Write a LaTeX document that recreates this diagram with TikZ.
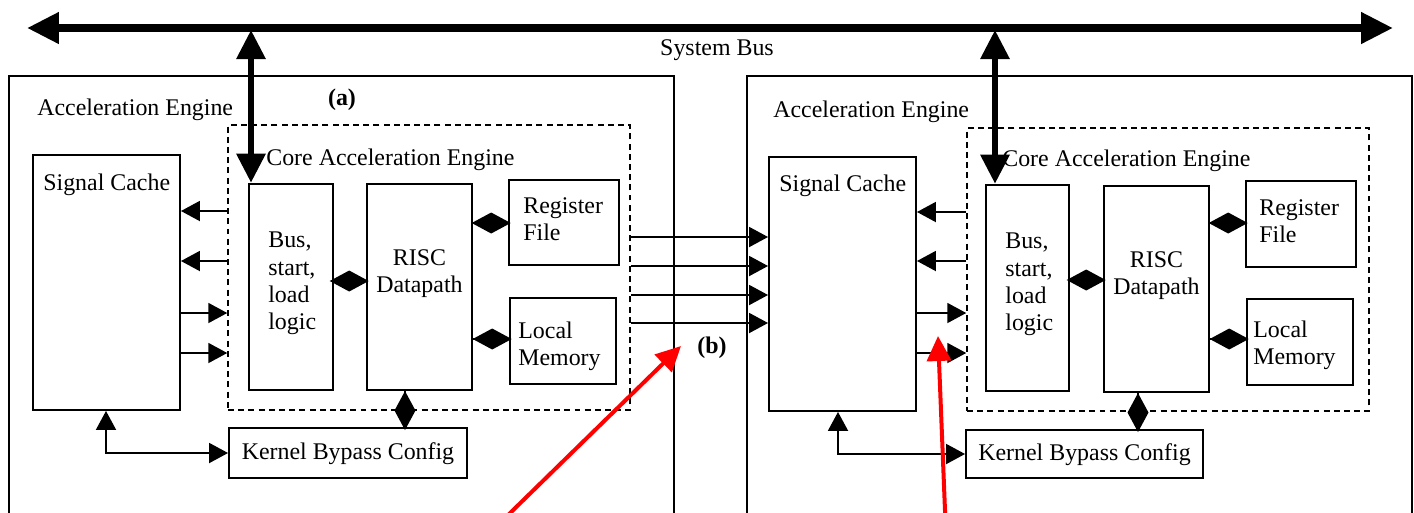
\documentclass[tikz,border=0pt]{standalone}
\usepackage{fontspec}
\setmainfont{Liberation Serif}
\usetikzlibrary{arrows.meta}

\begin{document}
\begin{tikzpicture}
		[
			x=0.02cm, y=-0.02cm,
			font=\fontsize{13.6}{15.5}\selectfont,
			txt/.style={draw=none,fill=none,inner sep=0pt},
			engine/.style={draw,line width=1.5pt,inner sep=0pt},
			block/.style={draw,line width=1.5pt,inner sep=0pt},
			thinblock/.style={draw,line width=1.1pt,inner sep=0pt},
			core/.style={draw,dash pattern=on 3.4pt off 2.4pt,line width=0.9pt,inner sep=0pt},
			arrow/.style={-{Triangle[length=0.38cm,width=0.40cm]}, line width=1.1pt},
			link/.style={{Triangle[length=0.38cm,width=0.40cm]}-{Triangle[length=0.38cm,width=0.40cm]}, line width=1.1pt},
			twoway/.style={-{Kite[length=0.78cm,width=0.42cm,inset=0.39cm]}, line width=1.1pt, shorten >=-0.06cm},
			sysbus/.style={{Triangle[length=0.64cm,width=0.60cm]}-{Triangle[length=0.64cm,width=0.60cm]}, line width=0.15cm},
			bus/.style={{Triangle[length=0.58cm,width=0.56cm]}-{Triangle[length=0.58cm,width=0.56cm]}, line width=0.12cm},
			pointer/.style={-{Triangle[length=0.50cm,width=0.48cm]}, red, line width=0.08cm}
		]

		\useasboundingbox (0,0) rectangle (1414,512);
		\clip (0,0) rectangle (1414,512);

		% engines (run past the lower edge)
		\node[engine, minimum width=13.3cm, minimum height=9.68cm] (eng1) at (  341.5, 318 ) {};
		\node[engine, minimum width=13.3cm, minimum height=9.68cm] (eng2) at ( 1079.5, 318 ) {};

		% system bus
		\coordinate (busL) at (   27, 28 );
		\coordinate (busR) at ( 1393, 28 );
		\coordinate (tap1) at (  251, 30 );
		\coordinate (tap2) at (  995, 30 );
		\draw[sysbus] (busL) -- (busR);
		\node[txt] (busname) at ( 717, 50 ) {System Bus};

		% blocks for engine one
		\node[thinblock, minimum width=2.94cm, minimum height=5.10cm] (sc1)   at ( 106.5, 282.5 ) {};
		\node[core,      minimum width=8.04cm, minimum height=5.70cm] (core1) at ( 429.0, 267.5 ) {};
		\node[block,     minimum width=1.68cm, minimum height=4.12cm] (bl1)   at ( 291.0, 287.0 ) {};
		\node[block,     minimum width=2.10cm, minimum height=4.12cm] (rd1)   at ( 419.5, 287.0 ) {};
		\node[block,     minimum width=2.20cm, minimum height=1.70cm] (rf1)   at ( 564.0, 222.5 ) {};
		\node[block,     minimum width=2.12cm, minimum height=1.72cm] (lm1)   at ( 563.0, 341.0 ) {};
		\node[thinblock, minimum width=4.76cm, minimum height=1.00cm] (kb1)   at ( 348.0, 453.0 ) {};

		% texts for engine one
		\node[txt, anchor=west] (eng1name)  at (  37, 110 ) {Acceleration Engine};
		\node[txt]              (taga)      at ( 342, 100 ) {\textbf{(a)}};
		\node[txt, anchor=west] (core1name) at ( 266, 160 ) {Core Acceleration Engine};
		\node[txt, anchor=west] (sc1name)   at (  43, 185 ) {Signal Cache};
		\node[txt, anchor=west, align=left]   (bl1name) at ( 268.0, 283.5 ) {Bus,\\start,\\load\\logic};
		\node[txt, align=center]              (rd1name) at ( 419.5, 274.0 ) {RISC\\Datapath};
		\node[txt, anchor=west, align=left]   (rf1name) at ( 523.0, 219.5 ) {Register\\File};
		\node[txt, anchor=west, align=left]   (lm1name) at ( 518.0, 346.0 ) {Local\\Memory};
		\node[txt]                            (kb1name) at ( 348.0, 454.0 ) {Kernel Bypass Config};

		% paths for engine one
		\draw[bus] (tap1) -- (tap1 |- bl1.north);
		\foreach \y in {211,261}
		\draw[arrow] (core1.west |- 0,\y) -- (sc1.east |- 0,\y);
		\foreach \y in {313,353}
		\draw[arrow] (sc1.east |- 0,\y) -- (core1.west |- 0,\y);
		\draw[twoway] (bl1.east |- 0,281) -- (rd1.west |- 0,281);
		\draw[twoway] (rd1.east |- 0,223) -- (rf1.west |- 0,223);
		\draw[twoway] (rd1.east |- 0,339) -- (lm1.west |- 0,339);
		\draw[twoway] (rd1.south -| 405,0) -- (kb1.north -| 405,0);
		\draw[link] (sc1.south -| 106,0) |- (kb1.west);

		% blocks for engine two
		\node[thinblock, minimum width=2.94cm, minimum height=5.08cm] (sc2)   at (  842.5, 284.0 ) {};
		\node[core,      minimum width=8.04cm, minimum height=5.66cm] (core2) at ( 1168.0, 269.5 ) {};
		\node[block,     minimum width=1.66cm, minimum height=4.12cm] (bl2)   at ( 1027.5, 288.0 ) {};
		\node[block,     minimum width=2.10cm, minimum height=4.12cm] (rd2)   at ( 1156.5, 289.0 ) {};
		\node[block,     minimum width=2.20cm, minimum height=1.72cm] (rf2)   at ( 1301.0, 224.0 ) {};
		\node[block,     minimum width=2.12cm, minimum height=1.72cm] (lm2)   at ( 1300.0, 342.0 ) {};
		\node[thinblock, minimum width=4.74cm, minimum height=0.96cm] (kb2)   at ( 1084.5, 454.0 ) {};

		% texts for engine two
		\node[txt, anchor=west] (eng2name)  at (  773, 112 ) {Acceleration Engine};
		\node[txt]              (tagb)      at (  712, 348 ) {\textbf{(b)}};
		\node[txt, anchor=west] (core2name) at ( 1002, 161 ) {Core Acceleration Engine};
		\node[txt, anchor=west] (sc2name)   at (  779, 186 ) {Signal Cache};
		\node[txt, anchor=west, align=left]   (bl2name) at ( 1005.0, 284.5 ) {Bus,\\start,\\load\\logic};
		\node[txt, align=center]              (rd2name) at ( 1156.5, 276.0 ) {RISC\\Datapath};
		\node[txt, anchor=west, align=left]   (rf2name) at ( 1259.0, 221.0 ) {Register\\File};
		\node[txt, anchor=west, align=left]   (lm2name) at ( 1253.0, 345.0 ) {Local\\Memory};
		\node[txt]                            (kb2name) at ( 1084.5, 455.0 ) {Kernel Bypass Config};

		% paths for engine two
		\draw[bus] (tap2) -- (tap2 |- bl2.north);
		\foreach \y in {212,261}
		\draw[arrow] (core2.west |- 0,\y) -- (sc2.east |- 0,\y);
		\foreach \y in {313,353}
		\draw[arrow] (sc2.east |- 0,\y) -- (core2.west |- 0,\y);
		\draw[twoway] (bl2.east |- 0,280) -- (rd2.west |- 0,280);
		\draw[twoway] (rd2.east |- 0,223) -- (rf2.west |- 0,223);
		\draw[twoway] (rd2.east |- 0,339) -- (lm2.west |- 0,339);
		\draw[twoway] (rd2.south -| 1138,0) -- (kb2.north -| 1138,0);
		\draw[link] (sc2.south -| 838,0) |- (kb2.west);

		% paths between the engines
		\foreach \y in {237,266,295,323}
		\draw[arrow] (core1.east |- 0,\y) -- (sc2.west |- 0,\y);

		% red pointers
		\coordinate (tailA) at ( 505.0, 518 );
		\coordinate (ptrA)  at ( 681.0, 346 );
		\coordinate (tailB) at ( 945.3, 518 );
		\coordinate (ptrB)  at ( 938.0, 336 );
		\draw[pointer] (tailA) -- (ptrA);
		\draw[pointer] (tailB) -- (ptrB);

	\end{tikzpicture}
\end{document}
